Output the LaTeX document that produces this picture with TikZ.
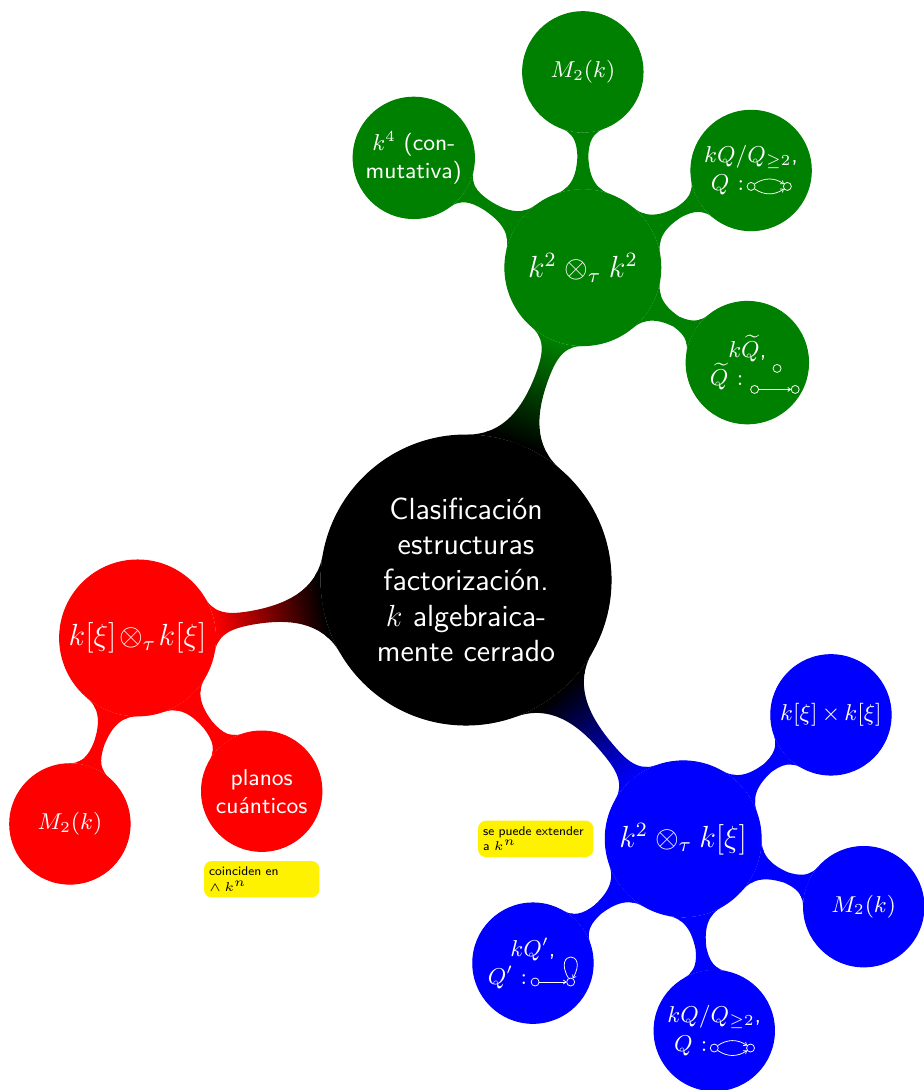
\documentclass[tikz,border=0pt]{standalone}
\usetikzlibrary{mindmap,arrows.meta,positioning}
\colorlet{verde}{green!50!black}

\begin{document}
\begin{tikzpicture}[
  text=white,
  rootnode/.style={concept, concept color=black, minimum size=4cm, text width=3cm, inner sep=1pt, align=center, font=\sffamily\large},
  hub/.style={concept, minimum size=2.15cm, text width=1.9cm, inner sep=1pt, align=center, font=\sffamily\large},
  leaf/.style={concept, minimum size=1.66cm, text width=1.4cm, inner sep=1pt, align=center, font=\sffamily\small},
  note/.style={rectangle, rounded corners=3pt, fill=yellow, text=black, text width=1.45cm, minimum height=0.5cm, inner sep=2pt, align=left, font=\sffamily\tiny},
  vtx/.style={circle, draw=white, line width=0.3pt, minimum size=1.1mm, inner sep=0pt},
  qarrow/.style={draw=white, line width=0.3pt, -{To[length=1.3pt,width=1.8pt]}}
]
\useasboundingbox (-6.428,-7.034) rectangle (6.303,8.0);

\node[rootnode] (clasif) at (0,0) {Clasificación\\ estructuras\\ factorización.\\ $k$ algebraica-\\mente cerrado};

\node[hub, concept color=verde] (kk) at (69.5:4.6) {$k^2\otimes_\tau k^2$};
\node[hub, concept color=red] (kxi) at (190:4.6) {$k[\xi]\otimes_\tau k[\xi]$};
\node[hub, concept color=blue] (kkxi) at (310:4.66) {$k^2\otimes_\tau k[\xi]$};

\node[leaf, concept color=verde] (kkM) at ([shift={(90:2.7)}]kk.center) {$M_2(k)$};
\node[leaf, concept color=verde] (kkKron) at ([shift={(30:2.68)}]kk.center) {$kQ/Q_{\geq 2}$,\\ $Q:$\rule{6.5mm}{0pt}};
\node[leaf, concept color=verde] (kkTilde) at ([shift={(-30:2.62)}]kk.center) {$k\widetilde{Q}$,\\ $\widetilde{Q}:$\rule{5.7mm}{0pt}};
\node[leaf, concept color=verde] (kkCom) at ([shift={(147:2.78)}]kk.center) {$k^4$ (con-\\mutativa)};

\node[leaf, concept color=red] (kxiM) at ([shift={(250:2.73)}]kxi.center) {$M_2(k)$};
\node[leaf, concept color=red] (kxiPlanos) at ([shift={(309:2.72)}]kxi.center) {planos\\ cuánticos};

\node[leaf, concept color=blue] (kkxiProd) at ([shift={(40:2.66)}]kkxi.center) {$k[\xi]\times k[\xi]$};
\node[leaf, concept color=blue] (kkxiM) at ([shift={(-20.6:2.66)}]kkxi.center) {$M_2(k)$};
\node[leaf, concept color=blue] (kkxiKron) at ([shift={(-80.8:2.68)}]kkxi.center) {$kQ/Q_{\geq 2}$,\\ $Q:$\rule{6.5mm}{0pt}};
\node[leaf, concept color=blue] (kkxiLoop) at ([shift={(-140.4:2.69)}]kkxi.center) {$kQ'$,\\ $Q':$\rule{7mm}{0pt}};

\node[note, left=1.5mm of kkxi] (extender) {se puede extender\\ a $k^n$};
\node[note, below=1.2mm of kxiPlanos] (coinciden) {coinciden en\\ $\wedge\, k^n$};

\path (clasif) to[circle connection bar switch color=from (black) to (verde)] (kk);
\path (clasif) to[circle connection bar switch color=from (black) to (red)] (kxi);
\path (clasif) to[circle connection bar switch color=from (black) to (blue)] (kkxi);
\path (kk) to[circle connection bar switch color=from (verde) to (verde)] (kkM);
\path (kk) to[circle connection bar switch color=from (verde) to (verde)] (kkKron);
\path (kk) to[circle connection bar switch color=from (verde) to (verde)] (kkTilde);
\path (kk) to[circle connection bar switch color=from (verde) to (verde)] (kkCom);
\path (kxi) to[circle connection bar switch color=from (red) to (red)] (kxiM);
\path (kxi) to[circle connection bar switch color=from (red) to (red)] (kxiPlanos);
\path (kkxi) to[circle connection bar switch color=from (blue) to (blue)] (kkxiProd);
\path (kkxi) to[circle connection bar switch color=from (blue) to (blue)] (kkxiM);
\path (kkxi) to[circle connection bar switch color=from (blue) to (blue)] (kkxiKron);
\path (kkxi) to[circle connection bar switch color=from (blue) to (blue)] (kkxiLoop);

\node[vtx] (kkKronA) at ([shift={(0,-0.22)}]kkKron.center) {};
\node[vtx] (kkKronB) at ([shift={(0.5,-0.22)}]kkKron.center) {};
\draw[qarrow] (kkKronA) to[bend left=35] (kkKronB);
\draw[qarrow] (kkKronA) to[bend right=35] (kkKronB);

\node[vtx] (kkTildeC) at ([shift={(0.41,-0.08)}]kkTilde.center) {};
\node[vtx] (kkTildeA) at ([shift={(0.1,-0.37)}]kkTilde.center) {};
\node[vtx] (kkTildeB) at ([shift={(0.66,-0.37)}]kkTilde.center) {};
\draw[qarrow] (kkTildeA) -- (kkTildeB);

\node[vtx] (kkxiKronA) at ([shift={(0,-0.24)}]kkxiKron.center) {};
\node[vtx] (kkxiKronB) at ([shift={(0.5,-0.24)}]kkxiKron.center) {};
\draw[qarrow] (kkxiKronA) to[bend left=35] (kkxiKronB);
\draw[qarrow] (kkxiKronA) to[bend right=35] (kkxiKronB);

\node[vtx] (kkxiLoopA) at ([shift={(0.03,-0.26)}]kkxiLoop.center) {};
\node[vtx] (kkxiLoopB) at ([shift={(0.52,-0.26)}]kkxiLoop.center) {};
\draw[qarrow] (kkxiLoopA) -- (kkxiLoopB);
\draw[qarrow] (kkxiLoopB) to[out=120, in=60, distance=4.5mm] (kkxiLoopB);
\end{tikzpicture}
\end{document}
